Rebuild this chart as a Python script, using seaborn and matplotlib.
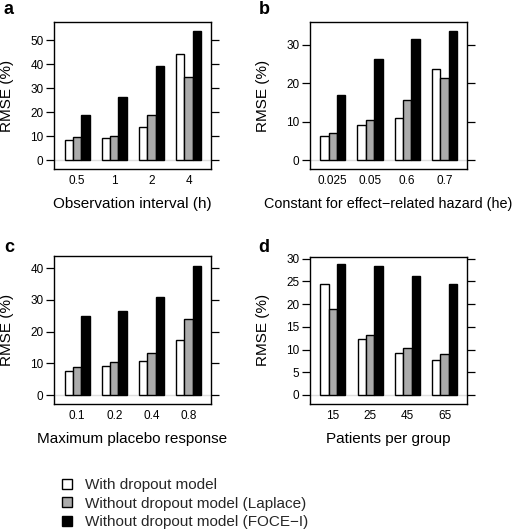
import numpy as np
import pandas as pd
import seaborn as sns
import matplotlib.pyplot as plt
from matplotlib.patches import Patch

sns.set_theme(style="white")
plt.rcParams['font.family'] = ['Liberation Sans', 'DejaVu Sans']

models = ["With dropout model",
          "Without dropout model (Laplace)",
          "Without dropout model (FOCE\u2212I)"]
colors = ["white", "#ababab", "black"]

cats_a = ["0.5", "1", "2", "4"]
with_a = [8.3, 9.1, 13.7, 44.2]
lap_a = [9.6, 10.2, 18.8, 34.6]
foce_a = [18.8, 26.3, 39.2, 53.9]

cats_b = ["0.025", "0.05", "0.6", "0.7"]
with_b = [6.2, 9.2, 11.0, 23.7]
lap_b = [7.0, 10.5, 15.6, 21.3]
foce_b = [17.0, 26.3, 31.5, 33.6]

cats_c = ["0.1", "0.2", "0.4", "0.8"]
with_c = [7.5, 9.3, 10.7, 17.3]
lap_c = [8.8, 10.4, 13.3, 24.0]
foce_c = [25.0, 26.4, 31.0, 40.7]

cats_d = ["15", "25", "45", "65"]
with_d = [24.4, 12.4, 9.3, 7.6]
lap_d = [19.0, 13.2, 10.4, 9.0]
foce_d = [28.8, 28.4, 26.3, 24.4]

xlabels = ["Observation interval (h)",
           "Constant for effect\u2212related hazard (he)",
           "Maximum placebo response",
           "Patients per group"]
xlabel_sizes = [11, 10.4, 11, 11]
letters = ["a", "b", "c", "d"]
yticks = [[0, 10, 20, 30, 40, 50], [0, 10, 20, 30], [0, 10, 20, 30, 40],
          [0, 5, 10, 15, 20, 25, 30]]
ylims = [(-3.74, 57.5), (-2.33, 35.9), (-2.83, 43.8), (-2.0, 30.5)]

panels = [(cats_a, with_a, lap_a, foce_a), (cats_b, with_b, lap_b, foce_b),
          (cats_c, with_c, lap_c, foce_c), (cats_d, with_d, lap_d, foce_d)]

W, H = 517, 531
fig = plt.figure(figsize=(W / 100, H / 100), dpi=100)

# axes boxes in pixels: left, top, right, bottom
boxes = [(54, 22, 211, 169), (309.7, 22, 466.7, 169),
         (54, 256, 211, 404), (309.7, 256.5, 467, 404)]
letter_pos = [(4, 14), (259, 14), (4, 252), (258, 252)]

pal = dict(zip(models, colors))

for i, (cats, w, l, f) in enumerate(panels):
    L, T, R, B = boxes[i]
    ax = fig.add_axes([L / W, 1 - B / H, (R - L) / W, (B - T) / H])
    df = pd.DataFrame({
        "cat": cats * 3,
        "rmse": list(w) + list(l) + list(f),
        "model": [models[0]] * 4 + [models[1]] * 4 + [models[2]] * 4,
    })
    ax.axhline(0, color="#dedede", lw=1.0, zorder=0)
    sns.barplot(data=df, x="cat", y="rmse", hue="model", hue_order=models,
                order=cats, palette=pal, saturation=1, edgecolor="black",
                linewidth=1.0, width=0.675, ax=ax, legend=False, zorder=2)
    ax.set_xlim(-0.62, 3.6)
    ax.set_ylim(*ylims[i])
    ax.set_yticks(yticks[i])
    ax.tick_params(axis="y", which="both", left=True, right=True,
                   labelleft=True, labelright=False, direction="out",
                   length=5.5, width=0.9, pad=2, labelsize=8.5, colors="black")
    ax.tick_params(axis="x", length=0, pad=4, labelsize=8.5, colors="black")
    for s in ax.spines.values():
        s.set_visible(True)
        s.set_color("black")
        s.set_linewidth(1.0)
    ax.set_ylabel("RMSE (%)", fontsize=11, color="black")
    ax.yaxis.set_label_coords(-0.255, 0.5)
    ax.set_xlabel(xlabels[i], fontsize=xlabel_sizes[i], color="black")
    ax.xaxis.set_label_coords(0.5, -0.19)
    lx, ly = letter_pos[i]
    fig.text(lx / W, 1 - ly / H, letters[i], fontsize=13, fontweight="bold",
             ha="left", va="baseline", color="black")

handles = [Patch(facecolor=c, edgecolor="black", linewidth=1.0) for c in colors]
fig.legend(handles, models, loc="upper left",
           bbox_to_anchor=(62 / W, 1 - 478 / H), frameon=False,
           fontsize=11, handlelength=0.65, handleheight=0.65,
           handletextpad=0.85, labelspacing=0.3, borderpad=0,
           borderaxespad=0)

fig.savefig("out.png", dpi=100)
